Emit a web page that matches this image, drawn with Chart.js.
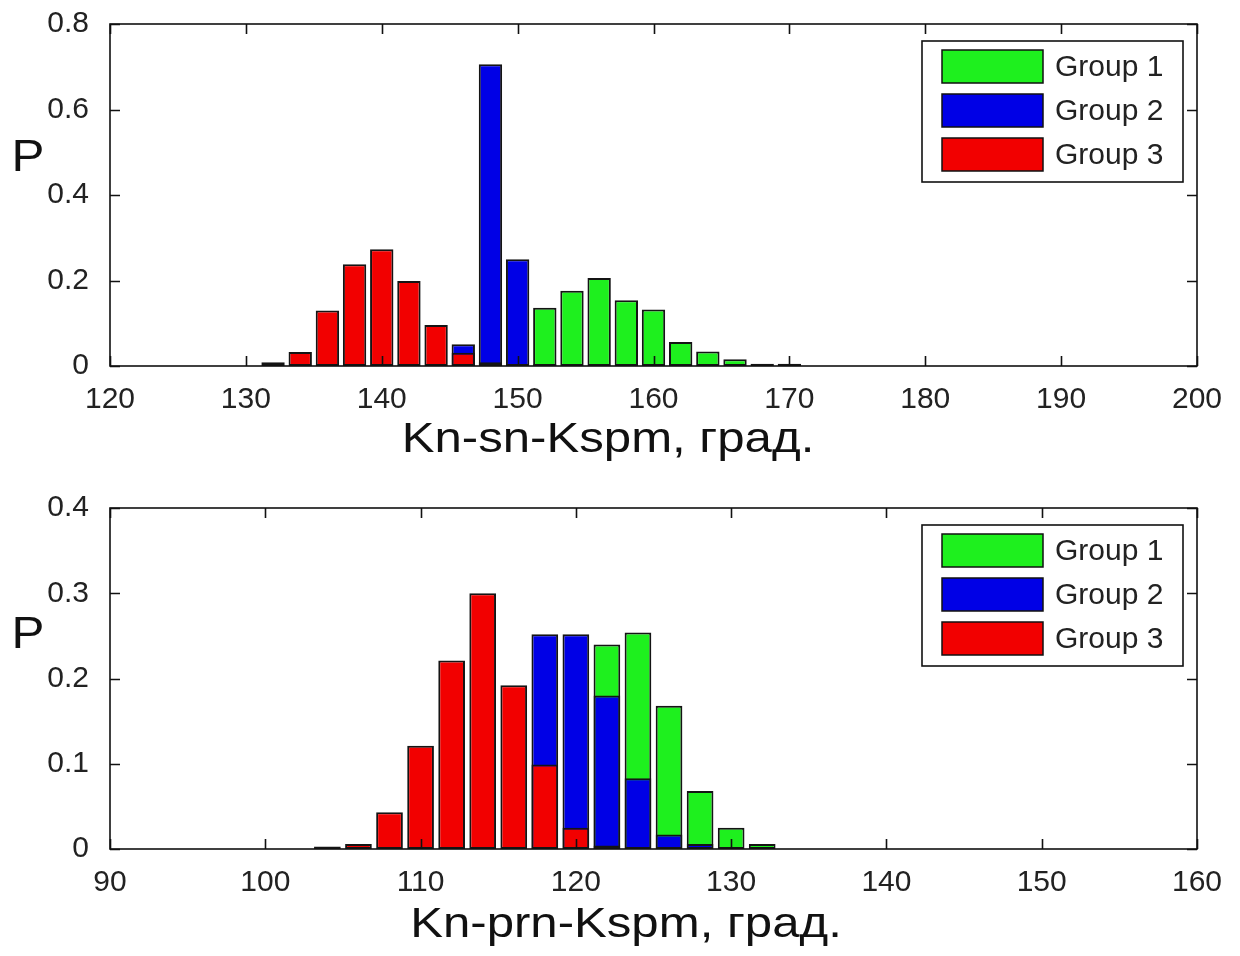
<!DOCTYPE html>
<html lang="ru">
<head>
  <meta charset="UTF-8" />
  <title>Kn-sn-Kspm / Kn-prn-Kspm</title>
  <script src="https://cdn.jsdelivr.net/npm/chart.js"></script>
  <style>
    * { box-sizing: border-box; }
    body { margin: 0; background: #fff; width: 1240px; height: 956px; overflow: hidden; }
    canvas { display: block; }
  </style>
</head>
<body>
  <canvas id="topChart" width="1240" height="480"></canvas>
  <canvas id="bottomChart" width="1240" height="476"></canvas>

  <script>
    // --- data ---
    const groupNames = ["Group 1", "Group 2", "Group 3"];
    const groupColors = ["#1ef01e", "#0000e6", "#f20000"];

    // top panel: Kn-sn-Kspm
    const topBins = [132, 134, 136, 138, 140, 142, 144, 146, 148, 150, 152, 154, 156, 158, 160, 162, 164, 166, 168, 170];
    const topGroup1 = [null, null, null, null, null, null, null, null, null, null, 0.136, 0.176, 0.206, 0.154, 0.132, 0.056, 0.034, 0.016, 0.005, 0.005];
    const topGroup2 = [null, null, null, null, null, null, null, 0.051, 0.706, 0.250, 0.004, null, null, null, null, null, null, null, null, null];
    const topGroup3 = [0.009, 0.033, 0.130, 0.238, 0.273, 0.199, 0.096, 0.031, 0.009, null, null, null, null, null, null, null, null, null, null, null];
    const topXTicks = [120, 200, 10];   // min, max, step
    const topYTicks = [0, 0.8, 0.2];

    // bottom panel: Kn-prn-Kspm
    const botBins = [104, 106, 108, 110, 112, 114, 116, 118, 120, 122, 124, 126, 128, 130, 132];
    const botGroup1 = [null, null, null, null, null, null, null, null, null, 0.240, 0.254, 0.168, 0.068, 0.025, 0.006];
    const botGroup2 = [null, null, null, null, null, null, null, 0.252, 0.252, 0.180, 0.083, 0.017, 0.006, null, null];
    const botGroup3 = [0.003, 0.006, 0.043, 0.121, 0.221, 0.300, 0.192, 0.099, 0.025, 0.004, null, null, null, null, null];
    const botXTicks = [90, 160, 10];
    const botYTicks = [0, 0.4, 0.1];

    const FONT = "'Liberation Sans', Arial, sans-serif";

    // box, inward ticks, legend and labels, matlab style
    const matlabFrame = {
      id: "matlabFrame",
      afterDraw(chart, args, o) {
        const { ctx, chartArea: a, scales: { x, y } } = chart;
        ctx.save();
        ctx.strokeStyle = "#111";
        ctx.lineWidth = 1.6;
        ctx.beginPath();
        x.ticks.forEach(t => {
          const px = Math.round(x.getPixelForValue(t.value)) + 0.5;
          ctx.moveTo(px, a.bottom); ctx.lineTo(px, a.bottom - 10);
          ctx.moveTo(px, a.top); ctx.lineTo(px, a.top + 10);
        });
        y.ticks.forEach(t => {
          const py = Math.round(y.getPixelForValue(t.value)) + 0.5;
          ctx.moveTo(a.left, py); ctx.lineTo(a.left + 10, py);
          ctx.moveTo(a.right, py); ctx.lineTo(a.right - 10, py);
        });
        ctx.stroke();
        ctx.strokeRect(a.left, a.top, a.right - a.left, a.bottom - a.top);

        // legend
        const bx = a.right - 275, by = a.top + 17;
        ctx.fillStyle = "#fff";
        ctx.fillRect(bx, by, 261, 141);
        ctx.strokeRect(bx, by, 261, 141);
        ctx.font = "30px " + FONT;
        ctx.textBaseline = "middle";
        ctx.textAlign = "left";
        chart.data.datasets.forEach((ds, i) => {
          const sy = by + 9 + i * 44;
          ctx.fillStyle = ds.backgroundColor;
          ctx.fillRect(bx + 20, sy, 101, 33);
          ctx.lineWidth = 1.5;
          ctx.strokeRect(bx + 20, sy, 101, 33);
          ctx.fillStyle = "#222";
          ctx.fillText(ds.label, bx + 133, sy + 18);
        });

        // axis labels
        ctx.fillStyle = "#111";
        ctx.textAlign = "center";
        ctx.textBaseline = "alphabetic";
        ctx.save();
        ctx.translate(o.titleX, o.titleY);
        ctx.scale(1.17, 1);
        ctx.font = "42px " + FONT;
        ctx.fillText(o.xTitle, 0, 0);
        ctx.restore();

        ctx.save();
        ctx.translate(28, o.pY);
        ctx.scale(1.12, 1);
        ctx.font = "44px " + FONT;
        ctx.textBaseline = "middle";
        ctx.fillText("P", 0, 0);
        ctx.restore();

        ctx.restore();
      }
    };

    function makeDatasets(bins, series) {
      return series.map((vals, i) => ({
        label: groupNames[i],
        data: bins.map((b, k) => ({ x: b, y: vals[k] })),
        backgroundColor: groupColors[i],
        borderColor: "#141414",
        borderWidth: 2,
        borderSkipped: false,
        order: 3 - i,              // group 3 in front, group 1 at the back
        categoryPercentage: 1,
        barPercentage: 0.86,
        grouped: false
      }));
    }

    function drawPanel(id, bins, series, xt, yt, padTop, xHeight, frameOpts) {
      return new Chart(document.getElementById(id), {
        type: "bar",
        data: { datasets: makeDatasets(bins, series) },
        options: {
          responsive: false,
          animation: false,
          devicePixelRatio: 1,
          layout: { padding: { top: padTop, right: 43, left: 0, bottom: 0 } },
          plugins: {
            legend: { display: false },
            tooltip: { enabled: false },
            matlabFrame: frameOpts
          },
          scales: {
            x: {
              type: "linear",
              offset: false,
              min: xt[0], max: xt[1],
              grid: { display: false, offset: false },
              border: { display: false },
              ticks: {
                stepSize: xt[2], autoSkip: false, maxRotation: 0,
                padding: 8, color: "#222",
                font: { family: FONT, size: 30 }
              },
              afterFit: s => { s.height = xHeight; s.paddingLeft = 0; s.paddingRight = 0; }
            },
            y: {
              min: yt[0], max: yt[1],
              grid: { display: false },
              border: { display: false },
              ticks: {
                stepSize: yt[2], padding: 13, color: "#222",
                font: { family: FONT, size: 30 }
              },
              afterFit: s => { s.width = 110; s.paddingTop = 0; s.paddingBottom = 0; }
            }
          }
        },
        plugins: [matlabFrame]
      });
    }

    drawPanel("topChart", topBins, [topGroup1, topGroup2, topGroup3], topXTicks, topYTicks, 24, 114,
      { xTitle: "Kn-sn-Kspm, град.", titleX: 608, titleY: 452, pY: 159 });
    drawPanel("bottomChart", botBins, [botGroup1, botGroup2, botGroup3], botXTicks, botYTicks, 28, 107,
      { xTitle: "Kn-prn-Kspm, град.", titleX: 626, titleY: 457, pY: 156 });
  </script>
</body>
</html>
